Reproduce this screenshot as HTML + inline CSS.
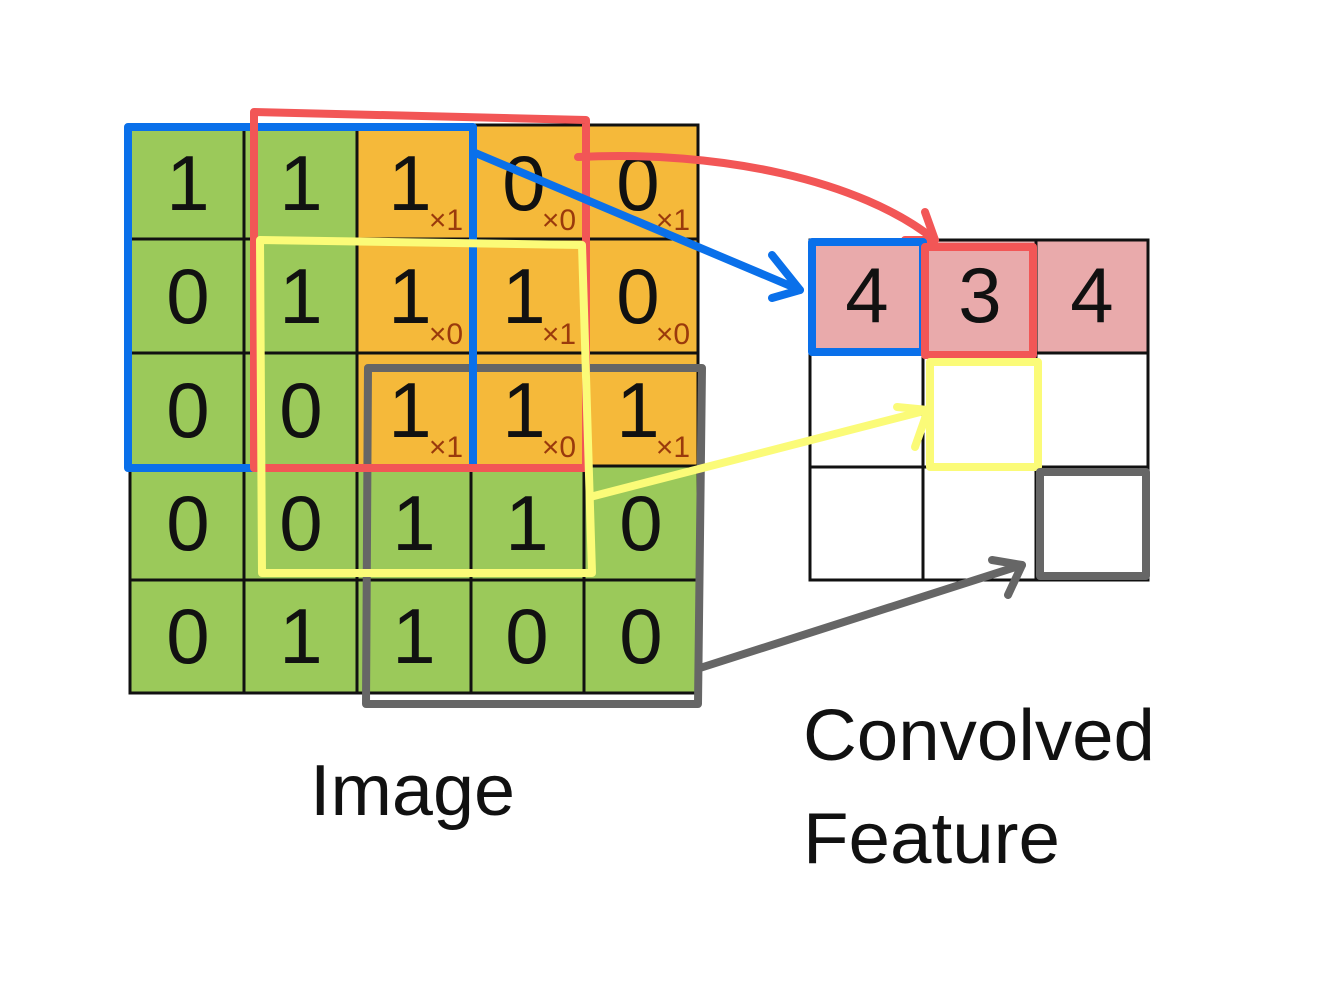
<!DOCTYPE html>
<html><head><meta charset="utf-8"><style>
html,body{margin:0;padding:0;background:#fff}
svg{display:block}
</style></head><body>
<svg width="1342" height="984" viewBox="0 0 1342 984" xmlns="http://www.w3.org/2000/svg" font-family="Liberation Sans, sans-serif">
<rect width="1342" height="984" fill="#fff"/>
<g stroke="#111" stroke-width="3">
<!-- left grid cells -->
<g id="cells">
<rect x="130" y="125" width="114" height="114" fill="#9bc95a"/>
<rect x="244" y="125" width="113" height="114" fill="#9bc95a"/>
<rect x="357" y="125" width="114" height="114" fill="#f5b93a"/>
<rect x="471" y="125" width="113" height="114" fill="#f5b93a"/>
<rect x="584" y="125" width="114" height="114" fill="#f5b93a"/>
<rect x="130" y="239" width="114" height="114" fill="#9bc95a"/>
<rect x="244" y="239" width="113" height="114" fill="#9bc95a"/>
<rect x="357" y="239" width="114" height="114" fill="#f5b93a"/>
<rect x="471" y="239" width="113" height="114" fill="#f5b93a"/>
<rect x="584" y="239" width="114" height="114" fill="#f5b93a"/>
<rect x="130" y="353" width="114" height="113" fill="#9bc95a"/>
<rect x="244" y="353" width="113" height="113" fill="#9bc95a"/>
<rect x="357" y="353" width="114" height="113" fill="#f5b93a"/>
<rect x="471" y="353" width="113" height="113" fill="#f5b93a"/>
<rect x="584" y="353" width="114" height="113" fill="#f5b93a"/>
<rect x="130" y="466" width="114" height="114" fill="#9bc95a"/>
<rect x="244" y="466" width="113" height="114" fill="#9bc95a"/>
<rect x="357" y="466" width="114" height="114" fill="#9bc95a"/>
<rect x="471" y="466" width="113" height="114" fill="#9bc95a"/>
<rect x="584" y="466" width="114" height="114" fill="#9bc95a"/>
<rect x="130" y="580" width="114" height="113" fill="#9bc95a"/>
<rect x="244" y="580" width="113" height="113" fill="#9bc95a"/>
<rect x="357" y="580" width="114" height="113" fill="#9bc95a"/>
<rect x="471" y="580" width="113" height="113" fill="#9bc95a"/>
<rect x="584" y="580" width="114" height="113" fill="#9bc95a"/>
</g>
<!-- right grid -->
<rect x="810" y="240" width="113" height="113" fill="#e9aaab"/>
<rect x="923" y="240" width="113" height="113" fill="#e9aaab"/>
<rect x="1036" y="240" width="112" height="113" fill="#e9aaab"/>
<rect x="810" y="353" width="113" height="114" fill="#fff"/>
<rect x="923" y="353" width="113" height="114" fill="#fff"/>
<rect x="1036" y="353" width="112" height="114" fill="#fff"/>
<rect x="810" y="467" width="113" height="113" fill="#fff"/>
<rect x="923" y="467" width="113" height="113" fill="#fff"/>
<rect x="1036" y="467" width="112" height="113" fill="#fff"/>
</g>
<g font-size="78" fill="#111" text-anchor="middle">
<text x="188" y="210">1</text><text x="301" y="210">1</text><text x="410" y="210">1</text><text x="524" y="210">0</text><text x="638" y="210">0</text>
<text x="188" y="323">0</text><text x="301" y="323">1</text><text x="410" y="323">1</text><text x="524" y="323">1</text><text x="638" y="323">0</text>
<text x="188" y="437">0</text><text x="301" y="437">0</text><text x="410" y="437">1</text><text x="524" y="437">1</text><text x="638" y="437">1</text>
<text x="188" y="550">0</text><text x="301" y="550">0</text><text x="414" y="550">1</text><text x="527" y="550">1</text><text x="641" y="550">0</text>
<text x="188" y="663">0</text><text x="301" y="663">1</text><text x="414" y="663">1</text><text x="527" y="663">0</text><text x="641" y="663">0</text>
<text x="867" y="322">4</text><text x="980" y="322">3</text><text x="1092" y="322">4</text>
</g>
<g font-size="30" fill="#9a3a0c" text-anchor="middle">
<text x="446" y="230">×1</text><text x="559" y="230">×0</text><text x="673" y="230">×1</text>
<text x="446" y="344">×0</text><text x="559" y="344">×1</text><text x="673" y="344">×0</text>
<text x="446" y="457">×1</text><text x="559" y="457">×0</text><text x="673" y="457">×1</text>
</g>
<g fill="none" stroke-width="8" stroke-linejoin="round" stroke-linecap="round">
<polygon points="368,368 702,368 698,704 366,704" stroke="#666"/>
<polygon points="128,127 473,127 473,468 128,468" stroke="#0a70ea"/>
<polygon points="254,112 586,120 586,468 254,468" stroke="#f25656"/>
<polygon points="260,240 582,245 592,573 262,573" stroke="#fbfb78"/>
<!-- arrows -->
<path d="M473,152 L800,290" stroke="#0a70ea"/>
<path d="M772,255 L800,290 L772,298" stroke="#0a70ea"/>
<path d="M578,157 C720,150 860,180 935,240" stroke="#f25656"/>
<path d="M925,212 L935,240 L905,240" stroke="#f25656"/>
<path d="M590,497 L928,410" stroke="#fbfb78"/>
<path d="M897,407 L928,410 L915,447" stroke="#fbfb78"/>
<path d="M700,668 L1022,565" stroke="#666"/>
<path d="M992,560 L1022,565 L1008,595" stroke="#666"/>
<!-- right grid highlights -->
<polygon points="812,242 923,242 923,352 812,352" stroke="#0a70ea"/>
<polygon points="925,247 1033,247 1033,355 925,355" stroke="#f25656"/>
<polygon points="930,362 1038,362 1038,467 930,467" stroke="#fbfb78"/>
<polygon points="1040,472 1146,472 1146,576 1040,576" stroke="#666"/>
</g>
<g font-size="72" fill="#111">
<text x="310" y="815" textLength="205" lengthAdjust="spacingAndGlyphs">Image</text>
<text x="803" y="760" textLength="352" lengthAdjust="spacingAndGlyphs">Convolved</text>
<text x="803" y="863" textLength="257" lengthAdjust="spacingAndGlyphs">Feature</text>
</g>
</svg>
</body></html>
